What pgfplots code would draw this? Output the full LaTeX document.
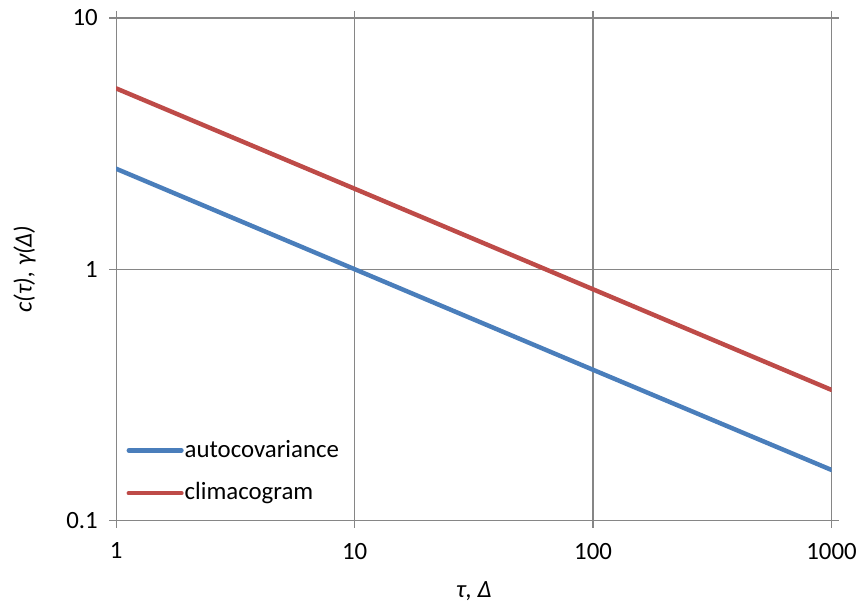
\documentclass[border=0pt]{standalone}
\usepackage{pgfplots}
\pgfplotsset{compat=1.18}
\usepackage{fontspec}
\setmainfont{Carlito}
\definecolor{cblue}{HTML}{4A7EBB}
\definecolor{cred}{HTML}{BE4B48}
\definecolor{cgrid}{HTML}{868686}
\begin{document}
\fontsize{25}{30}\selectfont
\begin{tikzpicture}
\begin{axis}[
  scale only axis,
  width=720pt, height=506pt,
  xmode=log, ymode=log,
  xmin=1, xmax=1000, ymin=0.1, ymax=10,
  xtick={1,10,100,1000}, xticklabels={1,10,100,1000},
  ytick={0.1,1,10}, yticklabels={0.1,1,10},
  xminorticks=false, yminorticks=false,
  /pgf/number format/assume math mode=true,
  tick align=outside,
  major tick length=7pt,
  tick style={cgrid, line width=1.4pt},
  axis line style={cgrid, line width=1.4pt},
  grid=major,
  major grid style={cgrid, line width=1.4pt},
  ticklabel style={font=\fontsize{25}{30}\selectfont},
  xticklabel style={yshift=-7pt},
  yticklabel style={xshift=-3pt},
  xlabel={\itshape τ, Δ},
  ylabel={\itshape c(τ), γ(Δ)},
  xlabel style={yshift=-6pt},
  ylabel style={yshift=14pt},
  label style={font=\fontsize{25}{30}\selectfont},
  legend style={draw=none, fill=none, at={(0.01,0.097)}, anchor=west,
    font=\fontsize{25}{30}\selectfont, row sep=20pt,
    nodes={inner sep=1pt}},
  legend cell align=left,
  legend image code/.code={\draw[#1, line width=4.5pt, line cap=round] (0pt,0pt) -- (53pt,0pt);},
]
\addplot[cblue, line width=4.5pt, line cap=round] coordinates {(1,2.51) (10,1.0) (100,0.398) (1000,0.159)};
\addlegendentry{autocovariance}
\addplot[cred, line width=4.5pt, line cap=round] coordinates {(1,5.24) (10,2.09) (100,0.832) (1000,0.331)};
\addlegendentry{climacogram}
\end{axis}
\path (current axis.south west) ++(-117pt,-78pt) coordinate (bbA);
\path (current axis.north east) ++(28pt,18pt) coordinate (bbB);
\useasboundingbox (bbA) rectangle (bbB);
\end{tikzpicture}
\end{document}
